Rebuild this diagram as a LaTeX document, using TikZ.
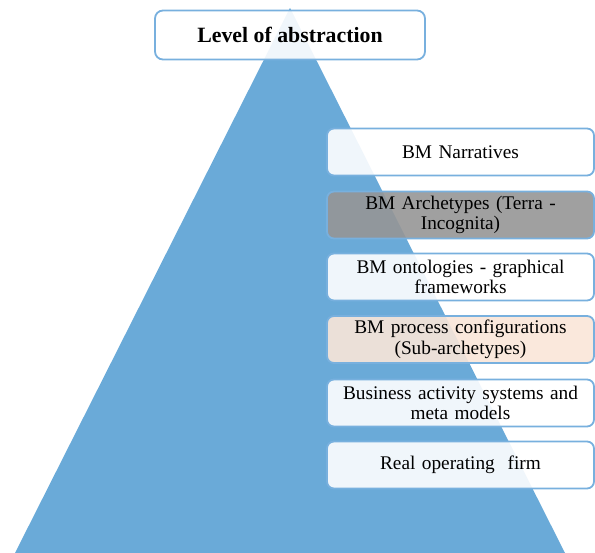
\documentclass[tikz,border=0pt]{standalone}
\usepackage{fontspec}
\setmainfont{Liberation Serif}
\definecolor{tri}{RGB}{106,170,216}
\definecolor{edge}{RGB}{120,176,222}
\definecolor{archgray}{RGB}{150,150,150}
\definecolor{peach}{RGB}{250,230,216}
\tikzset{
  levelbox/.style={draw=edge, line width=1.8pt, rounded corners=7pt, fill=white, fill opacity=0.9, text opacity=1,
    minimum width=267pt, minimum height=47pt, text width=260pt, align=center,
    font=\fontsize{19.3}{20.5}\selectfont, inner sep=0pt},
  titlebox/.style={draw=edge, line width=1.8pt, rounded corners=8pt, fill=white, fill opacity=0.9, text opacity=1,
    minimum width=270pt, minimum height=49pt, align=center,
    font=\fontsize{21.8}{23}\selectfont\bfseries, inner sep=0pt}
}
\begin{document}
\begin{tikzpicture}[x=1pt,y=-1pt]
\useasboundingbox (0,0) rectangle (595,553);
\fill[tri] (290,8) -- (565,553) -- (15,553) -- cycle;
\node[titlebox] (title) at (290,35) {Level of abstraction};
\node[levelbox] (narr) at (460.5,152) {BM Narratives};
\node[levelbox, fill=archgray] (arch) at (460.5,215) {BM Archetypes (Terra -\\Incognita)};
\node[levelbox] (onto) at (460.5,277) {BM ontologies - graphical\\frameworks};
\node[levelbox, fill=peach] (proc) at (460.5,339.5) {BM process configurations\\(Sub-archetypes)};
\node[levelbox] (bas) at (460.5,403) {Business activity systems and\\meta models};
\node[levelbox] (firm) at (460.5,465) {Real operating\ \ firm};
\end{tikzpicture}
\end{document}
